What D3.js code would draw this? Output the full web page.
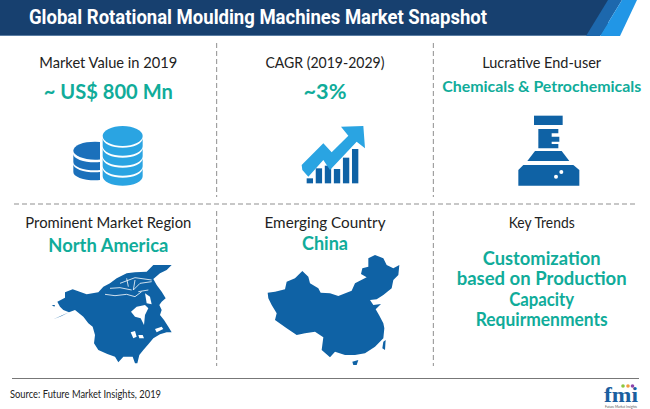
<!DOCTYPE html>
<html>
<head>
<meta charset="utf-8">
<style>
html, body { margin: 0; padding: 0; background: #fff; }
svg { display: block; }
text { font-family: Lato, "Open Sans", sans-serif; }
</style>
<script src="https://cdn.jsdelivr.net/npm/d3@7"></script>
</head>
<body>
<div id="chart"></div>
<script>
const TITLE = 'Global Rotational Moulding Machines Market Snapshot';
const SOURCE = 'Source: Future Market Insights, 2019';
const LABELS = ['Market Value in 2019', 'CAGR (2019-2029)', 'Lucrative End-user',
    'Prominent Market Region', 'Emerging Country', 'Key Trends'];
const VALUES = ['~ US$ 800 Mn', '~3%', 'Chemicals & Petrochemicals', 'North America', 'China'];
const TREND_LINES = ['Customization', 'based on Production', 'Capacity', 'Requirmenments'];
const COLUMNS = [0, 1, 2];

// icon heights of the little bar chart under the arrow
const GROWTH_BARS = [15, 45, 53, 43, 77, 103];

const ARROW = [[138,35],[205,33],[210,100],[185,80],[105,165],[85,135],[40,185],[22,165],[20,150],[85,85],[110,112],[160,62]];
const FLASK_CAP = [[132,47],[218,47],[218,75],[132,75]];
const FLASK_NECK = [[145,87],[205,87],[205,100],[185,100],[185,110],[208,110],[208,125],[185,125],[185,132],[205,132],[205,145],[145,145]];
const FLASK_SHOULDER = [[135,153],[215,153],[238,183],[112,183]];
const FLASK_BODY = [[100,195],[250,195],[268,210],[268,257],[85,257],[85,210]];
const FLASK_BUBBLES = [[214,216],[198,230]];

const NA_LAND = [[100,193],[125,183],[147,172],[130,165],[120,155],[112,140],[135,128],[135,112],[158,103],[200,118],[235,112],[250,95],[270,85],[290,70],[320,55],[345,52],[380,50],[400,30],[455,30],[440,45],[420,55],[400,72],[410,90],[425,110],[437,130],[425,140],[418,150],[425,165],[420,180],[432,195],[445,215],[455,232],[440,232],[420,238],[400,250],[385,268],[370,285],[358,300],[352,325],[345,325],[338,305],[310,305],[295,322],[285,305],[262,297],[235,285],[222,265],[225,240],[218,215],[205,205],[190,185],[165,165],[147,172]];
const NA_SPECK = [[95,150],[105,150],[103,155]];
const NA_WATER = [
    [[333,170],[350,155],[375,150],[385,160],[375,180],[372,210],[362,190],[345,185]],
    [[375,115],[390,125],[395,148],[380,145]],
    [[332,232],[345,228],[350,245],[340,250]],
    [[355,240],[368,240],[372,250],[358,250]],
    [[405,222],[425,215],[430,222],[410,232]]
];
const NA_CHANNELS = [
    [[255,118],[285,122],[320,118],[345,125],[365,110]],
    [[270,100],[300,98],[335,105]],
    [[320,70],[325,95]],
    [[345,75],[340,105],[360,85],[395,80]],
    [[355,110],[385,105]],
    [[300,85],[345,68],[395,75]]
];
const CHINA = [[38,128],[60,125],[90,118],[95,95],[120,85],[142,63],[160,80],[165,100],[190,115],[197,128],[225,130],[250,138],[290,122],[300,100],[335,82],[318,72],[322,55],[340,50],[340,25],[360,15],[385,25],[395,45],[415,55],[433,45],[430,75],[415,90],[410,115],[385,135],[365,148],[345,150],[355,165],[378,162],[362,178],[372,195],[385,220],[388,235],[385,265],[360,290],[330,310],[300,315],[270,315],[240,305],[225,322],[200,300],[205,262],[180,245],[150,250],[125,255],[95,235],[60,210],[65,190],[50,165],[40,145]];
const CHINA_ISLANDS = [
    [[385,275],[392,270],[390,300],[382,295]],
    [[292,335],[310,330],[305,345],[295,345]]
];

const WIDTH = 650;
const HEIGHT = 409;
const NAVY = '#17406f';
const TEAL = '#10ac9a';
const DARK_BLUE = '#0f62a5';
const SKY = '#2aa4e2';

const svg = d3.select('#chart')
    .append('svg')
    .attr('width', WIDTH)
    .attr('height', HEIGHT);

// header band
svg.append('rect').attr('width', 608).attr('height', 35).attr('fill', NAVY);
svg.append('rect').attr('y', 35).attr('width', 590).attr('height', 1).attr('fill', '#5a7da3');

const stripes = [
    { pts: [[586,36],[608,0],[622,0],[600,36]], fill: '#1d68ad' },
    { pts: [[600,36],[622,0],[637,0],[620,36]], fill: '#2196e6' }
];
stripes.forEach(s => svg.append('polygon').attr('points', s.pts.join(' ')).attr('fill', s.fill));

svg.append('text')
    .attr('x', 29).attr('y', 24)
    .attr('textLength', 458).attr('lengthAdjust', 'spacingAndGlyphs')
    .style('font-family', 'Roboto')
    .style('font-size', '20px').style('font-weight', 700)
    .attr('fill', '#fff')
    .text(TITLE);

// panel grid
const colX = d3.scaleBand().domain(COLUMNS).range([0, WIDTH]);
const colCentre = i => colX(i) + colX.bandwidth() / 2;

const dash = (x1, y1, x2, y2) => svg.append('line')
    .attr('x1', x1).attr('y1', y1).attr('x2', x2).attr('y2', y2)
    .attr('stroke', '#8f8f8f').attr('stroke-width', 1)
    .attr('stroke-dasharray', '5,3');

[1, 2].forEach(i => {
    dash(colX(i), 43, colX(i), 197);
    dash(colX(i), 211, colX(i), 366);
});
dash(14, 204, 636, 204);

const addText = (str, col, y, width, size, weight, fill) => svg.append('text')
    .attr('x', colCentre(col)).attr('y', y)
    .attr('text-anchor', 'middle')
    .attr('textLength', width).attr('lengthAdjust', 'spacingAndGlyphs')
    .style('font-size', size + 'px').style('font-weight', weight)
    .attr('fill', fill)
    .text(str);

const LABEL_WIDTHS = [138, 119, 119, 166, 121, 66];
LABELS.forEach((d, i) => addText(d, i % 3, i < 3 ? 68 : 228, LABEL_WIDTHS[i], 15, 400, '#222'));

addText(VALUES[0], 0, 99, 129, 21.5, 700, TEAL);
addText(VALUES[1], 1, 99, 43, 21.5, 700, TEAL);
addText(VALUES[2], 2, 92, 199, 16, 700, TEAL);
addText(VALUES[3], 0, 252, 120, 18.5, 700, TEAL);
addText(VALUES[4], 1, 250, 46, 18.5, 700, TEAL);

const TREND_WIDTHS = [118, 170, 65, 132];
const trendY = d3.scalePoint().domain(d3.range(TREND_LINES.length)).range([265, 326]);
TREND_LINES.forEach((d, i) => addText(d, 2, trendY(i), TREND_WIDTHS[i], 18.5, 700, TEAL));

// maps zoom pixels to the page, from the crop origin
const crop = (ox, oy) => {
    const x = d3.scaleLinear().domain([0, 3]).range([ox, ox + 1]);
    const y = d3.scaleLinear().domain([0, 3]).range([oy, oy + 1]);
    return { x, y, line: d3.line().x(d => x(d[0])).y(d => y(d[1])) };
};
const shape = (c, pts, fill) => svg.append('path')
    .attr('d', c.line(pts) + 'Z')
    .attr('fill', fill);

// coins
const coinCrop = crop(50, 110);
const coinBand = (cx, rx, ry, top, h) => {
    const X = coinCrop.x, Y = coinCrop.y;
    const a = X(rx) - X(0), b = Y(ry) - Y(0);
    return `M${X(cx - rx)},${Y(top)}A${a},${b} 0 0 0 ${X(cx + rx)},${Y(top)}`
        + `L${X(cx + rx)},${Y(top + h)}A${a},${b} 0 0 1 ${X(cx - rx)},${Y(top + h)}Z`;
};
svg.append('clipPath').attr('id', 'leftStack')
    .append('rect').attr('x', 50).attr('y', 110).attr('width', 50).attr('height', 90);
const leftCoins = svg.append('g').attr('clip-path', 'url(#leftStack)').attr('fill', '#1b70bb');
leftCoins.append('ellipse')
    .attr('cx', coinCrop.x(135)).attr('cy', coinCrop.y(122))
    .attr('rx', 65 / 3).attr('ry', 27 / 3);
[132, 162].forEach(t => leftCoins.append('path').attr('d', coinBand(135, 65, 25, t, 24)));

svg.append('ellipse')
    .attr('cx', coinCrop.x(218)).attr('cy', coinCrop.y(78))
    .attr('rx', 60 / 3).attr('ry', 30 / 3)
    .attr('fill', SKY);
[85, 115, 145, 175].forEach(t => svg.append('path')
    .attr('d', coinBand(218, 60, 28, t, 24))
    .attr('fill', SKY));

// growth icon
const growth = crop(295, 115);
const barX = d3.scaleBand().domain(d3.range(GROWTH_BARS.length)).range([35, 190]).paddingInner(0.3);
const barY = d3.scaleLinear().domain([0, 103]).range([205, 102]);
svg.selectAll('.growth-bar')
    .data(GROWTH_BARS)
    .enter()
    .append('rect')
    .attr('class', 'growth-bar')
    .attr('x', (d, i) => growth.x(barX(i)))
    .attr('y', d => growth.y(barY(d)))
    .attr('width', barX.bandwidth() / 3)
    .attr('height', d => (barY(0) - barY(d)) / 3)
    .attr('fill', DARK_BLUE);
shape(growth, ARROW, SKY);

// flask
const flask = crop(490, 100);
[FLASK_CAP, FLASK_NECK, FLASK_SHOULDER, FLASK_BODY].forEach(p => shape(flask, p, DARK_BLUE));
FLASK_BUBBLES.forEach(p => svg.append('circle')
    .attr('cx', flask.x(p[0])).attr('cy', flask.y(p[1])).attr('r', 2)
    .attr('fill', '#fff'));

// maps
const na = crop(20, 255);
shape(na, NA_LAND, DARK_BLUE);
shape(na, NA_SPECK, DARK_BLUE);
NA_WATER.forEach(p => shape(na, p, '#fff'));
NA_CHANNELS.forEach(p => svg.append('path')
    .attr('d', na.line(p))
    .attr('fill', 'none')
    .attr('stroke', '#fff')
    .attr('stroke-width', 0.8));

const china = crop(255, 250);
shape(china, CHINA, DARK_BLUE);
CHINA_ISLANDS.forEach(p => shape(china, p, DARK_BLUE));

// footer
svg.append('line')
    .attr('x1', 12).attr('x2', 639).attr('y1', 378.5).attr('y2', 378.5)
    .attr('stroke', '#777').attr('stroke-width', 1);
svg.append('text')
    .attr('x', 10).attr('y', 398)
    .attr('textLength', 151).attr('lengthAdjust', 'spacingAndGlyphs')
    .style('font-size', '11.5px')
    .attr('fill', '#222')
    .text(SOURCE);

// fmi logo
svg.append('text')
    .attr('x', 621).attr('y', 402)
    .attr('text-anchor', 'middle')
    .attr('textLength', 34).attr('lengthAdjust', 'spacingAndGlyphs')
    .style('font-family', '"Liberation Serif"').style('font-size', '20px').style('font-weight', 700)
    .attr('fill', '#1b5f9f')
    .text('fmi');
[['#8cc63f', 623], ['#f39c3d', 628], ['#8e44ad', 632.5]].forEach(d => svg.append('circle')
    .attr('cx', d[1]).attr('cy', 386).attr('r', 1.8).attr('fill', d[0]));
svg.append('text')
    .attr('x', 621).attr('y', 407.5)
    .attr('text-anchor', 'middle')
    .attr('textLength', 32).attr('lengthAdjust', 'spacingAndGlyphs')
    .style('font-size', '3px')
    .attr('fill', '#555')
    .text('Future Market Insights');
</script>
</body>
</html>
